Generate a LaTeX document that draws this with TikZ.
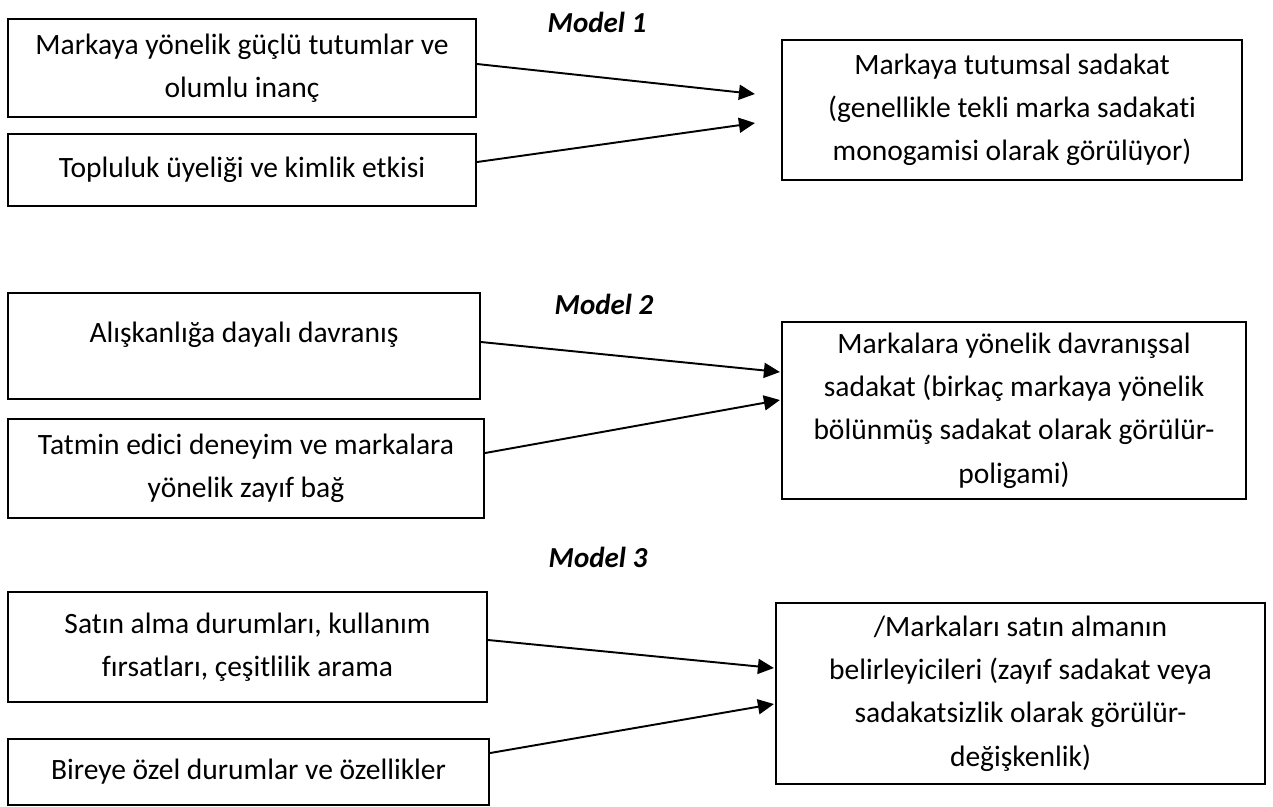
\documentclass[tikz,border=0pt]{standalone}
\usepackage{fontspec}
\setmainfont{Carlito}[Ligatures=NoCommon]
\usetikzlibrary{arrows.meta}

\begin{document}
\begin{tikzpicture}[x=0.02cm, y=-0.02cm,
  srcbox/.style={draw, line width=1.3pt, align=center, inner sep=0pt,
    font=\fontsize{16.8}{24.6}\selectfont},
  modellabel/.style={font=\fontsize{16.5}{24}\selectfont\bfseries\itshape, inner sep=0pt},
  link/.style={line width=1.1pt, -{Triangle[length=0.32cm, width=0.3cm]}}]
  \useasboundingbox (0,0) rectangle (1273,806);

  % Model 1
  \node[modellabel] (m1) at (597,22) {Model 1};
  \node[srcbox, minimum width=9.36cm, minimum height=1.96cm] (a1) at (242,68)
    {Markaya yönelik güçlü tutumlar ve\\olumlu inanç};
  \node[srcbox, minimum width=9.36cm, minimum height=1.44cm] (a2) at (242,170)
    {Topluluk üyeliği ve kimlik etkisi};
  \node[srcbox, minimum width=9.2cm, minimum height=2.8cm] (t1) at (1012,110)
    {Markaya tutumsal sadakat\\(genellikle tekli marka sadakati\\monogamisi olarak görülüyor)};
  \draw[link] ([yshift=0.08cm]a1.east) -- ([shift={(-0.52cm,0.32cm)}]t1.west);
  \draw[link] ([yshift=0.16cm]a2.east) -- ([shift={(-0.52cm,-0.26cm)}]t1.west);

  % Model 2
  \node[modellabel] (m2) at (604,304) {Model 2};
  \node[srcbox, minimum width=9.44cm, minimum height=2.12cm] (b1) at (244,346)
    {Alışkanlığa dayalı davranış\\[-0.32cm]~};
  \node[srcbox, minimum width=9.52cm, minimum height=1.98cm] (b2) at (246,468.5)
    {Tatmin edici deneyim ve markalara\\yönelik zayıf bağ};
  \node[srcbox, minimum width=9.28cm, minimum height=3.54cm] (t2) at (1014,410.5)
    {Markalara yönelik davranışsal\\sadakat (birkaç markaya yönelik\\bölünmüş sadakat olarak görülür-\\poligami)};
  \draw[link] ([yshift=0.08cm]b1.east) -- ([shift={(-0.02cm,0.77cm)}]t2.west);
  \draw[link] ([yshift=0.31cm]b2.east) -- ([shift={(-0.02cm,0.21cm)}]t2.west);

  % Model 3
  \node[modellabel] (m3) at (598,557) {Model 3};
  \node[srcbox, minimum width=9.58cm, minimum height=2.2cm] (c1) at (247.5,647)
    {Satın alma durumları, kullanım\\fırsatları, çeşitlilik arama};
  \node[srcbox, minimum width=9.62cm, minimum height=1.32cm] (c2) at (248.5,772)
    {Bireye özel durumlar ve özellikler};
  \node[srcbox, minimum width=9.78cm, minimum height=3.62cm] (t3) at (1020.5,693.5)
    {/Markaları satın almanın\\belirleyicileri (zayıf sadakat veya\\sadakatsizlik olarak görülür-\\değişkenlik)};
  \draw[link] ([yshift=0.14cm]c1.east) -- ([shift={(-0.02cm,0.51cm)}]t3.west);
  \draw[link] ([yshift=0.38cm]c2.east) -- ([shift={(-0.02cm,-0.21cm)}]t3.west);
\end{tikzpicture}
\end{document}
